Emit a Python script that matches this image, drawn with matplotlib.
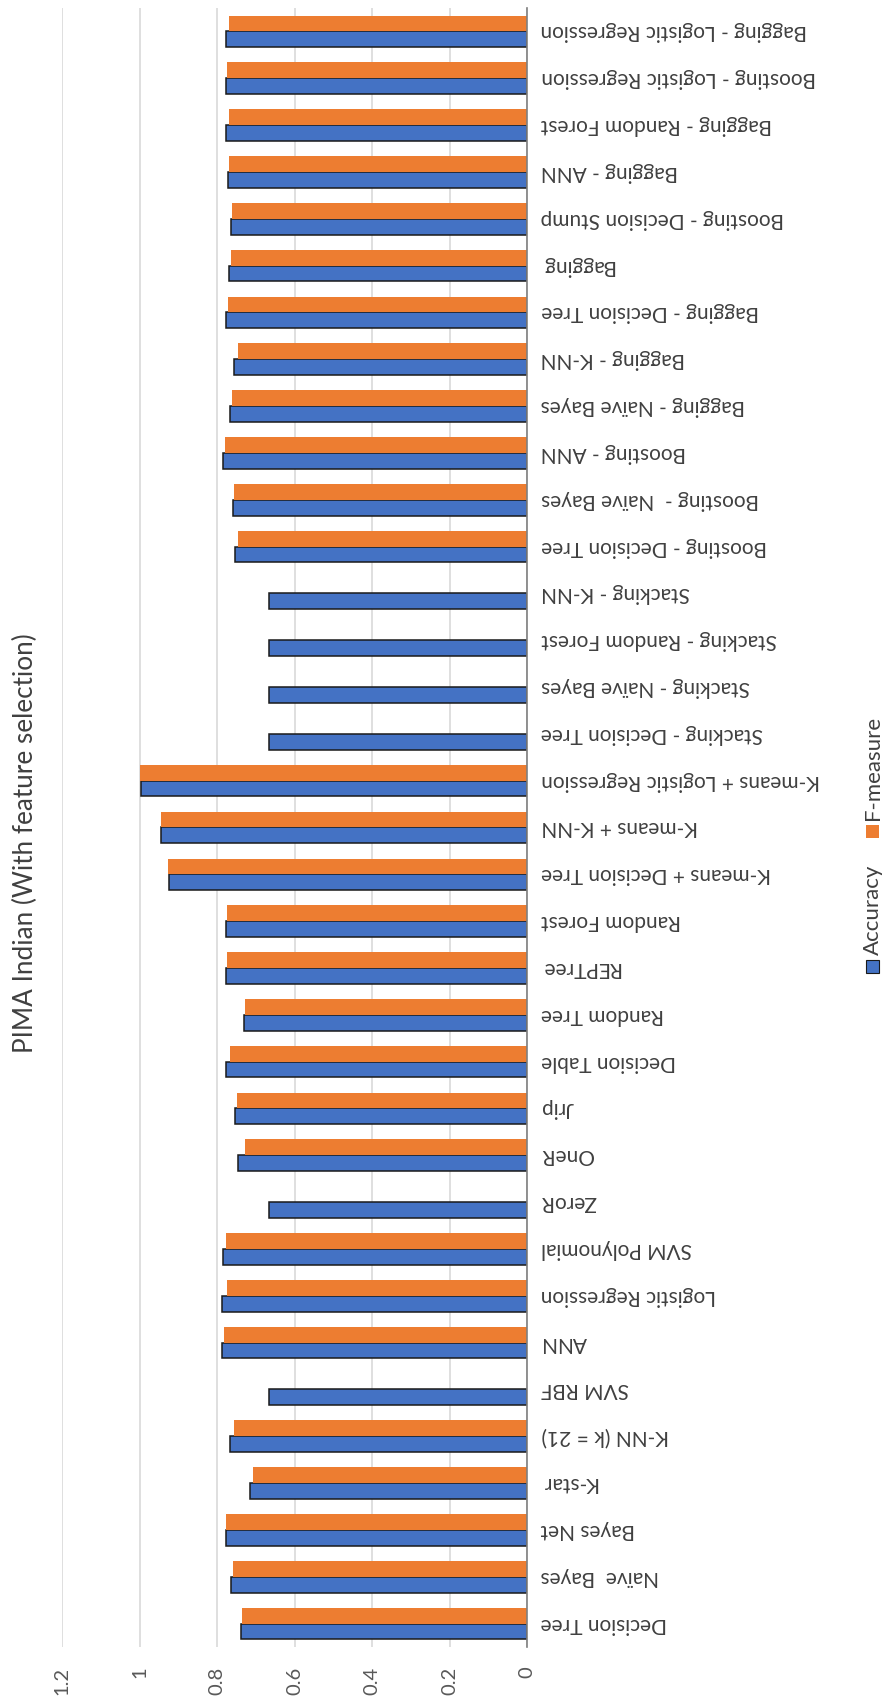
import numpy as np
import matplotlib
matplotlib.use("Agg")
import matplotlib.pyplot as plt
from matplotlib.patches import Rectangle

plt.rcParams['font.family'] = ['Lato', 'DejaVu Sans']

# categories listed from the bottom of the chart to the top
categories = ["Decision Tree", "Naïve  Bayes", "Bayes Net", "K-star", "K-NN (k = 21)",
              "SVM RBF", "ANN", "Logistic Regression", "SVM Polynomial", "ZeroR",
              "OneR", "Jrip", "Decision Table", "Random Tree", "REPTree",
              "Random Forest", "K-means + Decision Tree", "K-means + K-NN",
              "K-means + Logistic Regression", "Stacking - Decision Tree",
              "Stacking - Naïve Bayes", "Stacking - Random Forest", "Stacking - K-NN",
              "Boosting - Decision Tree", "Boosting -  Naïve Bayes", "Boosting - ANN",
              "Bagging - Naïve Bayes", "Bagging - K-NN", "Bagging - Decision Tree",
              "Bagging", "Boosting - Decision Stump", "Bagging - ANN",
              "Bagging - Random Forest", "Boosting - Logistic Regression",
              "Bagging - Logistic Regression"]

accuracy = [0.737, 0.764, 0.778, 0.716, 0.766,
            0.665, 0.788, 0.787, 0.785, 0.665,
            0.746, 0.754, 0.776, 0.730, 0.776,
            0.778, 0.925, 0.945,
            0.997, 0.665,
            0.665, 0.665, 0.665,
            0.754, 0.760, 0.785,
            0.766, 0.757, 0.776,
            0.769, 0.763, 0.772,
            0.776, 0.778,
            0.778]

fmeasure = [0.735, 0.759, 0.776, 0.708, 0.756,
            np.nan, 0.782, 0.773, 0.776, np.nan,
            0.729, 0.749, 0.767, 0.729, 0.773,
            0.773, 0.926, 0.944,
            0.998, np.nan,
            np.nan, np.nan, np.nan,
            0.747, 0.756, 0.779,
            0.761, 0.747, 0.771,
            0.765, 0.761, 0.770,
            0.770, 0.773,
            0.770]

xticks = [0, 0.2, 0.4, 0.6, 0.8, 1.0, 1.2]
xticklabels = ["0", "0.2", "0.4", "0.6", "0.8", "1", "1.2"]

BLUE = "#4472C4"
ORANGE = "#ED7D31"
TXT = "#404040"

W, H = 884, 1702
fig = plt.figure(figsize=(W / 100, H / 100), dpi=100)
ax = fig.add_axes([62 / W, 1 - 1647 / H, (527 - 62) / W, (1647 - 8) / H])

y = np.arange(len(categories))
acc = np.array(accuracy)
fm = np.array(fmeasure)
h = 0.338
ok = ~np.isnan(fm)

ax.barh(y - h / 2, acc, height=h, color=BLUE, edgecolor="#1a1a1a", linewidth=1.1, zorder=3)
ax.barh(y[ok] + h / 2, fm[ok], height=h, color=ORANGE, linewidth=0, zorder=3)

ax.set_xlim(1.2, 0)
ax.set_ylim(-0.5, len(categories) - 0.5)
ax.set_xticks(xticks)
ax.set_xticklabels(xticklabels, rotation=90, fontsize=14.5, color="#595959")
ax.tick_params(axis="x", length=0, pad=14)

ax.yaxis.tick_right()
ax.set_yticks(y)
ax.set_yticklabels(categories, rotation=180, fontsize=15, color=TXT, ha="left", va="center")
ax.tick_params(axis="y", length=0, pad=10)

ax.grid(axis="x", color="#D9D9D9", linewidth=1.2, zorder=0)
for s in ["top", "left", "bottom"]:
    ax.spines[s].set_visible(False)
ax.spines["right"].set_color("#7f7f7f")
ax.spines["right"].set_linewidth(1.2)
ax.spines["right"].set_zorder(4)

# title, reading upward along the left edge
fig.text(25 / W, 1 - 843 / H, "PIMA Indian (With feature selection)", rotation=90,
         ha="center", va="center", fontsize=18.8, color=TXT)

# legend drawn by hand so it can run vertically
sq = 13
fig.patches.append(Rectangle((866 / W, 1 - 973 / H), sq / W, sq / H, transform=fig.transFigure,
                             facecolor=BLUE, edgecolor="#1a1a1a", linewidth=0.8))
fig.text(873 / W, 1 - 955 / H, "Accuracy", rotation=90, ha="center", va="bottom",
         fontsize=16, color=TXT)
fig.patches.append(Rectangle((866 / W, 1 - 838 / H), sq / W, sq / H, transform=fig.transFigure,
                             facecolor=ORANGE, edgecolor="none"))
fig.text(873 / W, 1 - 820 / H, "F-measure", rotation=90, ha="center", va="bottom",
         fontsize=16, color=TXT)

fig.savefig("out.png", dpi=100)
